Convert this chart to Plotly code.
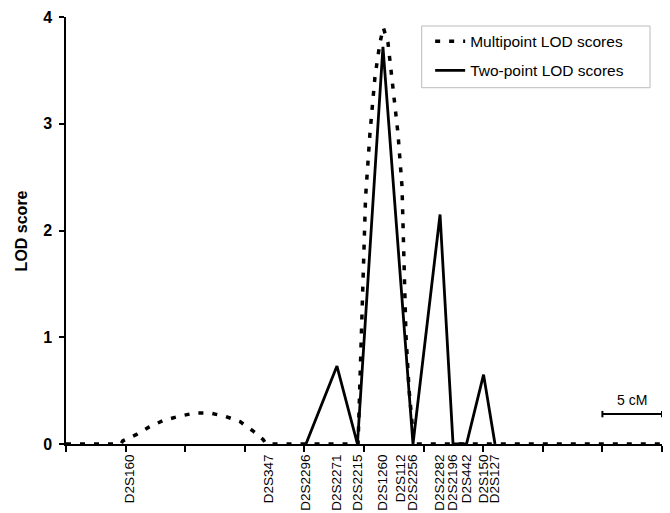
import plotly.graph_objects as go

# Marker names and map positions (cM)
markers = ["D2S160", "D2S347", "D2S2296", "D2S2271", "D2S2215", "D2S1260", "D2S112",
           "D2S2256", "D2S2282", "D2S2196", "D2S442", "D2S150", "D2S127"]
marker_cm = [5.37, 17.03, 20.13, 22.73, 24.45, 26.59, 28.06,
             29.11, 31.38, 32.47, 33.60, 35.03, 35.99]
# Two-point LOD scores at markers (None = not shown)
two_point_lod = [None, None, 0, 0.73, 0, 3.72, None, 0, 2.15, 0, 0, 0.65, 0]

# Multipoint LOD curve
multi_cm = [0, 4.61, 4.76, 5.93, 6.99, 8.16, 9.50, 10.82, 12.08, 13.34, 14.60, 15.71, 16.55, 16.78,
            24.50, 24.54, 24.75, 24.96, 25.13, 25.50, 25.92, 26.34, 26.62, 27.01, 27.32, 27.85,
            28.19, 28.36, 28.52, 28.78, 29.14, 29.19, 50]
multi_lod = [0, 0, 0.03, 0.09, 0.16, 0.22, 0.26, 0.29, 0.29, 0.26, 0.21, 0.12, 0.04, 0,
             0, 0.16, 1.07, 1.72, 2.31, 2.91, 3.44, 3.76, 3.90, 3.76, 3.44, 2.91,
             2.41, 1.72, 1.02, 0.51, 0.07, 0, 0]

y_ticks = [0, 1, 2, 3, 4]
x_ticks = list(range(0, 51, 5))

FONT = "Arial, Liberation Sans, sans-serif"

fig = go.Figure()
fig.add_trace(go.Scatter(x=multi_cm, y=multi_lod, mode="lines",
                         name="Multipoint LOD scores", legendgroup="a",
                         line=dict(color="black", width=3.5, dash="5px,9px"), cliponaxis=False))
fig.add_trace(go.Scatter(x=marker_cm, y=two_point_lod, mode="lines", name="Two-point LOD scores",
                         connectgaps=True, legendgroup="b",
                         line=dict(color="black", width=2.8), cliponaxis=False))
# invisible trace for marker label axis
fig.add_trace(go.Scatter(x=marker_cm, y=[0] * len(marker_cm), xaxis="x2", mode="markers",
                         marker=dict(opacity=0), showlegend=False, hoverinfo="skip"))

# legend frame
fig.add_shape(type="rect", xref="paper", yref="paper", x0=0.5968, x1=0.9799, y0=0.8344, y1=0.9789,
              line=dict(color="#bbbbbb", width=1), fillcolor="white", layer="below")

# 5 cM scale bar
fig.add_shape(type="line", x0=45, x1=50, y0=0.28, y1=0.28, line=dict(color="black", width=2))
fig.add_shape(type="line", x0=45, x1=45, y0=0.25, y1=0.31, line=dict(color="black", width=2))
fig.add_shape(type="line", x0=50, x1=50, y0=0.25, y1=0.31, line=dict(color="black", width=2))
fig.add_annotation(x=47.5, y=0.41, text="5 cM", showarrow=False,
                   font=dict(family=FONT, size=14, color="black"))

# y-axis title
fig.add_annotation(xref="paper", yref="paper", x=-0.074, y=0.5, text="LOD score",
                   textangle=-90, showarrow=False, xanchor="center", yanchor="middle",
                   font=dict(family=FONT, size=16, color="black", weight="bold"))

fig.update_layout(
    width=670, height=513,
    margin=dict(l=66, r=8, t=17, b=69, autoexpand=False),
    paper_bgcolor="white", plot_bgcolor="white",
    font=dict(family=FONT, color="black"),
    showlegend=True,
    legend=dict(x=0.611, y=0.982, xanchor="left", yanchor="top",
                borderwidth=0, bgcolor="rgba(0,0,0,0)",
                font=dict(family=FONT, size=15.5, color="black"),
                traceorder="grouped", tracegroupgap=6),
    xaxis=dict(range=[0, 50], tickvals=x_ticks, showticklabels=False, ticks="outside",
               ticklen=6, tickwidth=1.5, tickcolor="black", showline=True, linecolor="black",
               linewidth=2, showgrid=False, zeroline=False, automargin=False),
    xaxis2=dict(range=[0, 50], overlaying="x", anchor="y", side="bottom",
                tickvals=marker_cm, ticktext=markers, tickangle=-90, ticks="outside",
                ticklen=4, tickcolor="rgba(0,0,0,0)", showline=False, showgrid=False,
                zeroline=False, automargin=False,
                tickfont=dict(family=FONT, size=13.5, color="black")),
    yaxis=dict(range=[0, 4], tickvals=y_ticks, ticks="outside", ticklen=5, tickwidth=1.5,
               tickcolor="black", showline=True, linecolor="black", linewidth=1.5,
               showgrid=False, zeroline=False, automargin=False, ticklabelstandoff=4,
               tickfont=dict(family=FONT, size=16, color="black", weight="bold")),
)

fig.write_html("out.html", config={"displayModeBar": False},
               post_script="document.body.style.margin='0';document.body.style.overflow='hidden';")
